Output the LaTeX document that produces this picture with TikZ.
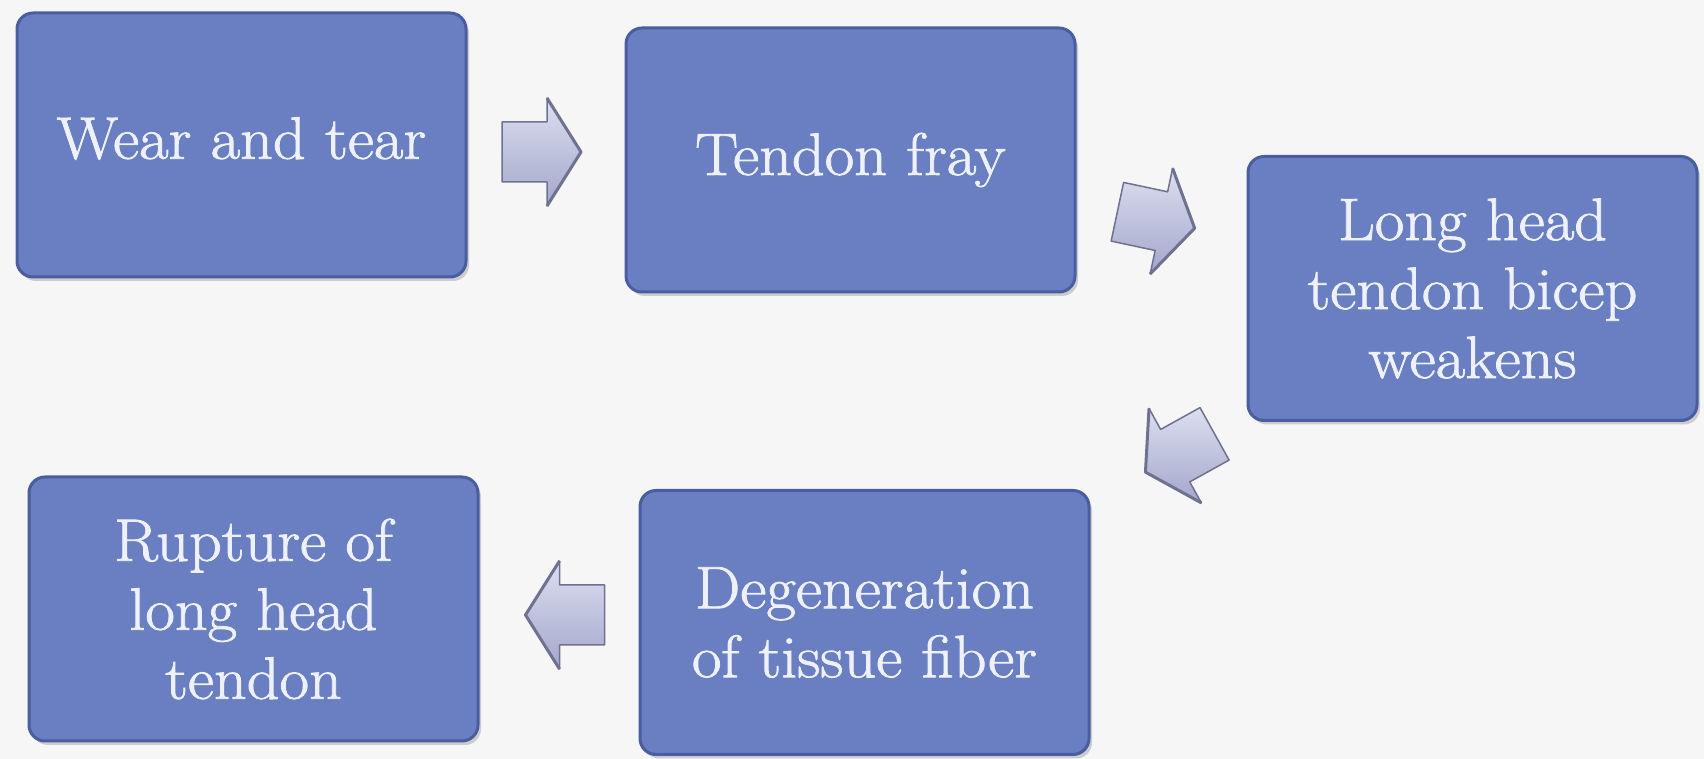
\documentclass[tikz,border=0pt]{standalone}
\usepackage{fontspec}
\newfontfamily\boxfont{Latin Modern Roman}[FakeBold=1.3,FakeStretch=1.07]
\usetikzlibrary{shadows,calc}
\definecolor{boxfill}{HTML}{6A7EC2}
\definecolor{boxedge}{HTML}{4A5DA0}
\definecolor{txt}{HTML}{EEF1FB}
\definecolor{bg}{HTML}{F6F6F6}
\definecolor{arrTop}{HTML}{DCDEF1}
\definecolor{arrMid}{HTML}{C9CCE6}
\definecolor{arrBot}{HTML}{A3A7C9}
\definecolor{arrEdge}{HTML}{6E7290}
\tikzset{
  stage/.style={draw=boxedge, line width=3pt, fill=boxfill, rounded corners=16pt,
    minimum width=449pt, minimum height=264pt, align=center, text=txt,
    font=\boxfont\fontsize{60}{69}\selectfont,
    drop shadow={opacity=0.35, shadow xshift=3pt, shadow yshift=-4pt}},
  pics/blockarrow/.style={code={
    \path[top color=arrTop, middle color=arrMid, bottom color=arrBot, draw=arrEdge, line width=1.5pt, line join=round]
      (-39.5,-30) -- (5.5,-30) -- (5.5,-54) -- (39.5,0) -- (5.5,54) -- (5.5,30) -- (-39.5,30) -- cycle;
    \draw[arrEdge, line width=3pt, line join=round] (5.5,54) -- (39.5,0) -- (5.5,-54);
  }}
}
\begin{document}
\begin{tikzpicture}[x=1pt,y=1pt]
\fill[bg] (0,0) rectangle (1704,759);
\useasboundingbox (0,0) rectangle (1704,759);
\node[stage] (b1) at (241.5,614) {Wear and tear\strut};
\node[stage] (b2) at (850.5,599) {Tendon fray};
\node[stage] (b3) at (1472.5,470.5) {Long head\\tendon bicep\\weakens};
\node[stage] (b4) at (864.5,136.5) {Degeneration\\of tissue fiber};
\node[stage] (b5) at (253.5,150) {Rupture of\\long head\\tendon};
\pic (a1) at (541.5,607) {blockarrow};
\pic[rotate=-12] (a2) at (1156,539) {blockarrow};
\pic[rotate=209] (a3) at (1180,306) {blockarrow};
\pic[rotate=180] (a4) at (565,144) {blockarrow};
\end{tikzpicture}
\end{document}
